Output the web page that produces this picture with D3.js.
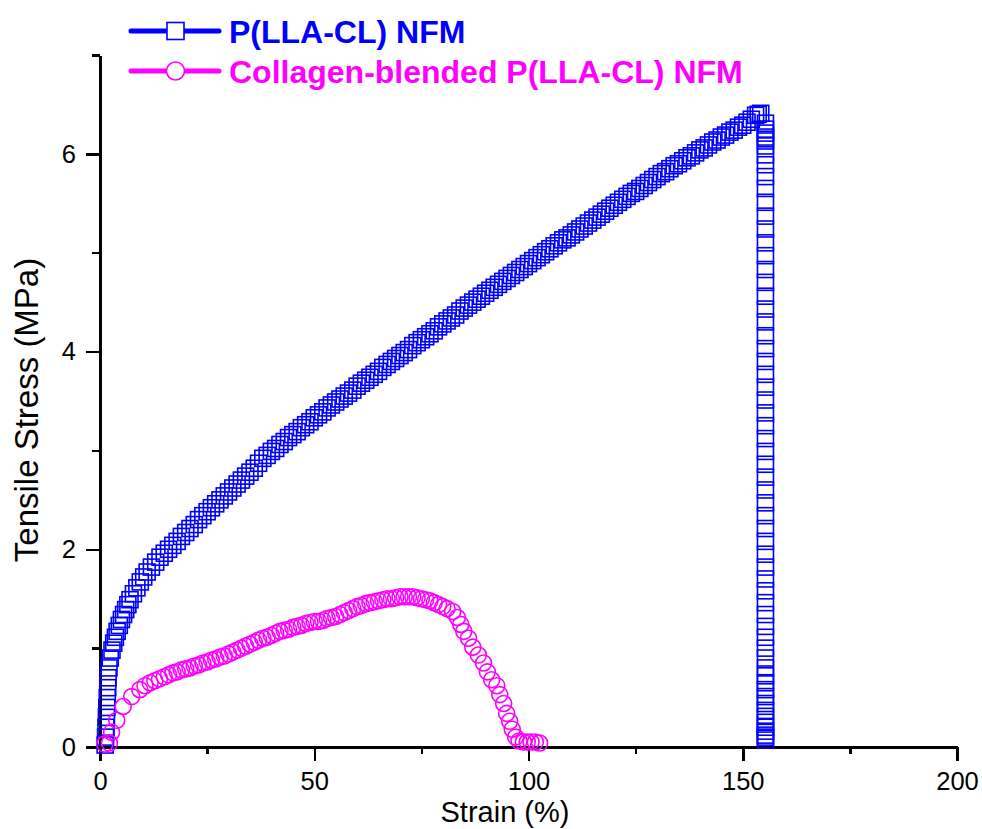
<!DOCTYPE html>
<meta charset="utf-8">
<style type="text/css">

body {
  margin: 0;
  background: #fff;
}

svg {
  font-family: Arial, "Liberation Sans", Helvetica, sans-serif;
}

.axis path,
.axis line {
  stroke: #000;
  shape-rendering: crispEdges;
}

.axis path {
  stroke-width: 3px;
}

.axis line {
  stroke-width: 2.5px;
}

.axis text {
  font-size: 25.5px;
  fill: #000;
}

</style>
<body>
<div id="svgContainer"></div>

<script src="https://d3js.org/d3.v7.min.js"></script>
<script>
var width = 982,
    height = 829;

// P(LLA-CL) NFM, strain (%) and tensile stress (MPa)
var blueStrain = [
  1.2, 1.3, 1.4, 1.5, 1.6, 1.7, 1.8, 1.9, 2.1, 2.4, 2.8, 3.2, 3.6, 4.0, 4.5, 5.0, 5.5, 6.0, 6.5, 7.0,
  7.8, 8.6, 9.4, 10.2, 11, 12, 13, 14, 15, 16, 17, 18, 19, 20, 21, 22, 23, 24, 25, 26,
  27, 28, 29, 30, 31, 32, 33, 34, 35, 36, 37, 38, 39, 40, 41, 42, 43, 44, 45, 46,
  47, 48, 49, 50, 51, 52, 53, 54, 55, 56, 57, 58, 59, 60, 61, 62, 63, 64, 65, 66,
  67, 68, 69, 70, 71, 72, 73, 74, 75, 76, 77, 78, 79, 80, 81, 82, 83, 84, 85, 86,
  87, 88, 89, 90, 91, 92, 93, 94, 95, 96, 97, 98, 99, 100, 101, 102, 103, 104, 105, 106,
  107, 108, 109, 110, 111, 112, 113, 114, 115, 116, 117, 118, 119, 120, 121, 122, 123, 124, 125, 126,
  127, 128, 129, 130, 131, 132, 133, 134, 135, 136, 137, 138, 139, 140, 141, 142, 143, 144, 145, 146,
  147, 148, 149, 150, 151, 152, 153, 153.6, 154.2,
  155.3, 155.3, 155.3, 155.3, 155.3, 155.3, 155.3, 155.3, 155.3, 155.3, 155.3, 155.3,
  155.3, 155.3, 155.3, 155.3, 155.3, 155.3, 155.3, 155.3, 155.3, 155.3, 155.3, 155.3,
  155.3, 155.3, 155.3, 155.3, 155.3, 155.3, 155.3, 155.3, 155.3, 155.3, 155.3, 155.3,
  155.3, 155.3, 155.3, 155.3, 155.3, 155.3, 155.3, 155.3, 155.3, 155.3, 155.3, 155.3,
  155.3, 155.3, 155.3, 155.3, 155.3, 155.3, 155.3, 155.3, 155.3, 155.3, 155.3, 155.3,
  155.3
];
var blueStress = [
  0.02, 0.10, 0.20, 0.30, 0.40, 0.50, 0.60, 0.70, 0.80, 0.90, 0.98, 1.05, 1.11, 1.17, 1.23, 1.29, 1.34, 1.39, 1.44, 1.49,
  1.55, 1.61, 1.67, 1.72, 1.77, 1.82, 1.87, 1.92, 1.96, 2.00, 2.04, 2.08, 2.13, 2.17, 2.21, 2.25, 2.30, 2.34, 2.38, 2.42,
  2.46, 2.50, 2.54, 2.58, 2.62, 2.66, 2.70, 2.74, 2.78, 2.82, 2.87, 2.92, 2.95, 2.99, 3.02, 3.06, 3.09, 3.13, 3.16, 3.19,
  3.23, 3.26, 3.29, 3.33, 3.36, 3.39, 3.43, 3.46, 3.49, 3.52, 3.55, 3.58, 3.61, 3.65, 3.68, 3.71, 3.74, 3.77, 3.80, 3.84,
  3.87, 3.90, 3.93, 3.96, 3.99, 4.02, 4.06, 4.09, 4.12, 4.15, 4.18, 4.21, 4.25, 4.28, 4.31, 4.34, 4.37, 4.41, 4.44, 4.47,
  4.50, 4.53, 4.56, 4.59, 4.62, 4.65, 4.68, 4.71, 4.74, 4.77, 4.80, 4.83, 4.86, 4.89, 4.92, 4.95, 4.98, 5.01, 5.04, 5.07,
  5.10, 5.13, 5.15, 5.18, 5.21, 5.24, 5.27, 5.30, 5.33, 5.36, 5.39, 5.42, 5.45, 5.48, 5.51, 5.54, 5.57, 5.60, 5.62, 5.65,
  5.68, 5.71, 5.74, 5.77, 5.80, 5.82, 5.85, 5.88, 5.90, 5.93, 5.96, 5.98, 6.01, 6.04, 6.06, 6.09, 6.12, 6.14, 6.17, 6.19,
  6.22, 6.24, 6.27, 6.29, 6.32, 6.35, 6.39, 6.40, 6.41,
  6.31, 6.25, 6.21, 6.17, 6.13, 6.08, 5.99, 5.89, 5.77, 5.65, 5.51, 5.37,
  5.24, 5.10, 4.97, 4.83, 4.70, 4.56, 4.43, 4.30, 4.16, 4.03, 3.90, 3.77,
  3.64, 3.51, 3.38, 3.25, 3.12, 2.99, 2.86, 2.73, 2.60, 2.47, 2.34, 2.21,
  2.08, 1.95, 1.82, 1.70, 1.58, 1.46, 1.34, 1.22, 1.11, 1.00, 0.90, 0.80,
  0.72, 0.65, 0.58, 0.51, 0.44, 0.37, 0.31, 0.25, 0.20, 0.16, 0.12, 0.10,
  0.07
];

// Collagen-blended P(LLA-CL) NFM
var pinkStrain = [
  1.1, 2.2, 2.7, 3.9, 5.4, 7.4, 9.3, 10.5, 11.7, 12.8, 13.9, 15, 16, 17, 18, 19, 20, 21, 22, 23,
  24, 25, 26, 27, 28, 29, 30, 31, 32, 33, 34, 35, 36, 37, 38, 39, 40, 41, 42, 43,
  44, 45, 46, 47, 48, 49, 50, 51, 52, 53, 54, 55, 56, 57, 58, 59, 60, 61, 62, 63,
  64, 65, 66, 67, 68, 69, 70, 71, 72, 73, 74, 75, 76, 77, 78, 79, 80, 81, 82.3, 83.4,
  84.2, 84.9, 86.0, 87.0, 88.3, 89.5, 90.4, 91.4, 92.6, 93.3, 94.2, 94.9, 95.6, 96.2, 97.0, 97.8, 98.8, 99.7, 100.6, 101.6,
  102.6
];
var pinkStress = [
  0.03, 0.04, 0.15, 0.27, 0.41, 0.51, 0.58, 0.62, 0.65, 0.67, 0.69, 0.71, 0.73, 0.75, 0.76, 0.78, 0.79, 0.80, 0.82, 0.83,
  0.85, 0.86, 0.88, 0.89, 0.91, 0.92, 0.94, 0.96, 0.98, 1.00, 1.02, 1.04, 1.06, 1.08, 1.10, 1.11, 1.13, 1.15, 1.17, 1.18,
  1.19, 1.21, 1.22, 1.23, 1.25, 1.26, 1.27, 1.27, 1.28, 1.30, 1.31, 1.32, 1.34, 1.36, 1.38, 1.40, 1.42, 1.43, 1.45, 1.46,
  1.47, 1.48, 1.49, 1.50, 1.50, 1.51, 1.52, 1.52, 1.52, 1.52, 1.51, 1.50, 1.49, 1.48, 1.46, 1.44, 1.42, 1.40, 1.37, 1.31,
  1.24, 1.17, 1.10, 1.01, 0.93, 0.85, 0.76, 0.68, 0.62, 0.53, 0.44, 0.34, 0.26, 0.18, 0.10, 0.06, 0.05, 0.05, 0.05, 0.05,
  0.04
];

var xMajorTicks = [0, 50, 100, 150, 200],
    xMinorTicks = [25, 75, 125, 175],
    yMajorTicks = [0, 2, 4, 6],
    yMinorTicks = [1, 3, 5, 7];

var seriesNames = ['P(LLA-CL) NFM', 'Collagen-blended P(LLA-CL) NFM'];
var seriesColors = ['#0000ff', '#ff00ff'];

var svg = d3.select('#svgContainer').append('svg')
    .attr('width', width)
    .attr('height', height);

var x = d3.scaleLinear().domain([0, 200]).range([100, 957]);
var y = d3.scaleLinear().domain([0, 7]).range([747, 55]);

// axes: major + minor ticks, outward like Origin
svg.append('g')
    .attr('class', 'axis')
    .attr('transform', 'translate(0,' + y(0) + ')')
    .call(d3.axisBottom(x).tickValues(xMinorTicks).tickSize(7).tickFormat(''))
    .call(function(g) { g.select('.domain').remove(); });

svg.append('g')
    .attr('class', 'axis')
    .attr('transform', 'translate(0,' + y(0) + ')')
    .call(d3.axisBottom(x).tickValues(xMajorTicks).tickSize(14).tickSizeOuter(0).tickPadding(11).tickFormat(d3.format('d')));

svg.append('g')
    .attr('class', 'axis')
    .attr('transform', 'translate(' + x(0) + ',0)')
    .call(d3.axisLeft(y).tickValues(yMinorTicks).tickSize(8).tickFormat(''))
    .call(function(g) { g.select('.domain').remove(); });

svg.append('g')
    .attr('class', 'axis')
    .attr('transform', 'translate(' + x(0) + ',0)')
    .call(d3.axisLeft(y).tickValues(yMajorTicks).tickSize(14).tickSizeOuter(0).tickPadding(10).tickFormat(d3.format('d')));

// axis titles
svg.append('text')
    .attr('x', 505)
    .attr('y', 822)
    .attr('text-anchor', 'middle')
    .style('font-size', '29px')
    .text('Strain (%)');

svg.append('text')
    .attr('transform', 'translate(38,410) rotate(-90)')
    .attr('text-anchor', 'middle')
    .style('font-size', '33px')
    .text('Tensile Stress (MPa)');

// series
var blueData = blueStrain.map(function(s, i) { return {x: s, y: blueStress[i]}; });
var pinkData = pinkStrain.map(function(s, i) { return {x: s, y: pinkStress[i]}; });

var sq = 16;
svg.append('g')
  .selectAll('rect')
    .data(blueData)
  .enter()
    .append('rect')
      .attr('x', function(d) { return x(d.x) - sq / 2; })
      .attr('y', function(d) { return y(d.y) - sq / 2; })
      .attr('width', sq)
      .attr('height', sq)
      .attr('fill', 'none')
      .attr('stroke', seriesColors[0])
      .attr('stroke-width', 1.6);

svg.append('g')
  .selectAll('circle')
    .data(pinkData)
  .enter()
    .append('circle')
      .attr('cx', function(d) { return x(d.x); })
      .attr('cy', function(d) { return y(d.y); })
      .attr('r', 8)
      .attr('fill', 'none')
      .attr('stroke', seriesColors[1])
      .attr('stroke-width', 1.6);

// legend
var legend = svg.append('g');
var legendY = [31, 71];

seriesNames.forEach(function(name, i) {
  legend.append('line')
      .attr('x1', 131).attr('x2', 219)
      .attr('y1', legendY[i]).attr('y2', legendY[i])
      .attr('stroke', seriesColors[i])
      .attr('stroke-width', 5)
      .attr('stroke-linecap', 'round');

  if (i === 0) {
    legend.append('rect')
        .attr('x', 175.5 - 8.5).attr('y', legendY[i] - 8.5)
        .attr('width', 17).attr('height', 17)
        .attr('fill', '#fff')
        .attr('stroke', seriesColors[i])
        .attr('stroke-width', 1.6);
  } else {
    legend.append('circle')
        .attr('cx', 175.5).attr('cy', legendY[i])
        .attr('r', 9)
        .attr('fill', '#fff')
        .attr('stroke', seriesColors[i])
        .attr('stroke-width', 1.6);
  }

  legend.append('text')
      .attr('x', 229)
      .attr('y', legendY[i] + 12)
      .attr('fill', seriesColors[i])
      .style('font-size', '32px')
      .style('font-weight', 'bold')
      .text(name);
});
</script>
